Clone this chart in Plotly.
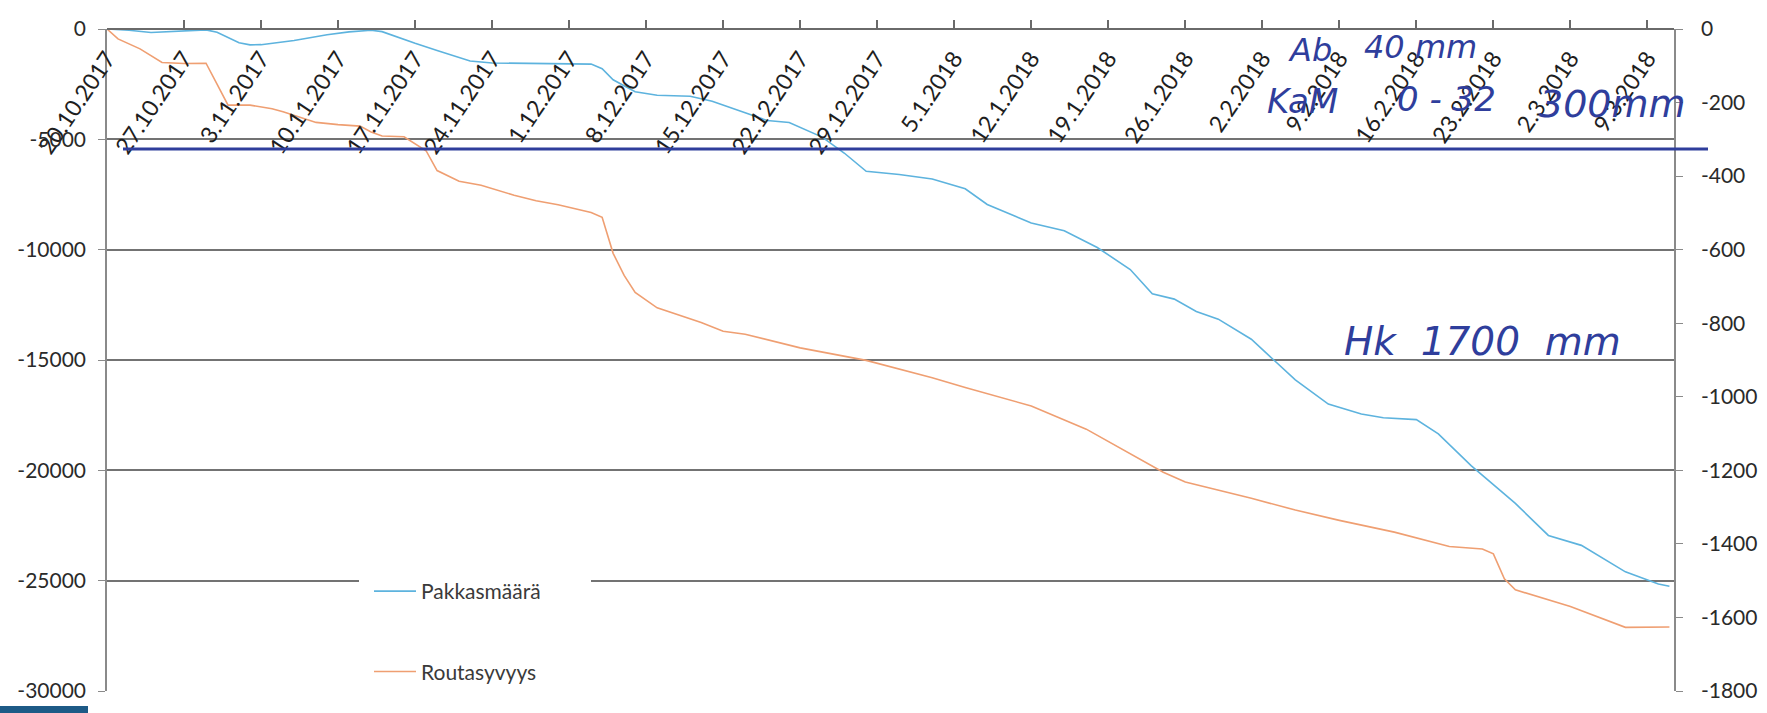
import plotly.graph_objects as go

# ---------------- data ----------------
pakkas_dates = [
    "2017-10-20", "2017-10-22", "2017-10-24", "2017-10-27", "2017-10-29", "2017-10-30",
    "2017-11-01", "2017-11-02", "2017-11-03", "2017-11-06", "2017-11-09", "2017-11-11",
    "2017-11-13", "2017-11-14", "2017-11-15", "2017-11-17", "2017-11-19", "2017-11-22",
    "2017-11-24", "2017-11-29", "2017-12-03", "2017-12-04", "2017-12-05", "2017-12-07",
    "2017-12-09", "2017-12-12", "2017-12-14", "2017-12-17", "2017-12-19", "2017-12-21",
    "2017-12-22", "2017-12-24", "2017-12-26", "2017-12-28", "2017-12-31", "2018-01-03",
    "2018-01-06", "2018-01-08", "2018-01-12", "2018-01-15", "2018-01-18", "2018-01-21",
    "2018-01-23", "2018-01-25", "2018-01-27", "2018-01-29", "2018-02-01", "2018-02-03",
    "2018-02-05", "2018-02-08", "2018-02-11", "2018-02-13", "2018-02-16", "2018-02-18",
    "2018-02-21", "2018-02-25", "2018-02-28", "2018-03-03", "2018-03-07", "2018-03-10",
    "2018-03-11",
]
pakkas_values = [
    0, -60, -160, -100, -40, -150,
    -620, -720, -710, -520, -260, -130,
    -60, -120, -300, -650, -970, -1450,
    -1540, -1570, -1590, -1800, -2300, -2840,
    -3000, -3050, -3270, -3800, -4150, -4240,
    -4450, -4900, -5620, -6450, -6590, -6800,
    -7240, -7950, -8790, -9140, -9900, -10900,
    -12000, -12240, -12800, -13150, -14060, -15000,
    -15900, -17000, -17450, -17620, -17700, -18350,
    -19800, -21500, -22950, -23400, -24600, -25150,
    -25250,
]

routa_dates = [
    "2017-10-20", "2017-10-21", "2017-10-23", "2017-10-25", "2017-10-27", "2017-10-29",
    "2017-10-30", "2017-10-31", "2017-11-02", "2017-11-04", "2017-11-05", "2017-11-08",
    "2017-11-10", "2017-11-12", "2017-11-13", "2017-11-14", "2017-11-16", "2017-11-18",
    "2017-11-19", "2017-11-21", "2017-11-23", "2017-11-26", "2017-11-28", "2017-11-30",
    "2017-12-03", "2017-12-04", "2017-12-05", "2017-12-06", "2017-12-07", "2017-12-09",
    "2017-12-13", "2017-12-15", "2017-12-17", "2017-12-22", "2017-12-28", "2018-01-03",
    "2018-01-06", "2018-01-12", "2018-01-17", "2018-01-18", "2018-01-24", "2018-01-26",
    "2018-01-29", "2018-02-01", "2018-02-05", "2018-02-09", "2018-02-14", "2018-02-19",
    "2018-02-22", "2018-02-23", "2018-02-24", "2018-02-25", "2018-03-02", "2018-03-07",
    "2018-03-11",
]
routa_values = [
    0, -27, -54, -91, -94, -93,
    -150, -207, -207, -217, -225, -254,
    -260, -264, -280, -291, -293, -331,
    -385, -414, -425, -452, -467, -478,
    -499, -512, -610, -670, -716, -758,
    -798, -822, -830, -867, -901, -948,
    -975, -1025, -1088, -1105, -1205, -1232,
    -1253, -1276, -1308, -1336, -1368, -1407,
    -1414, -1427, -1495, -1525, -1570, -1627,
    -1626,
]

left_ticks = [0, -5000, -10000, -15000, -20000, -25000, -30000]
left_labels = ["0", "-5000", "-10000", "-15000", "-20000", "-25000", "-30000"]
right_ticks = [0, -200, -400, -600, -800, -1000, -1200, -1400, -1600, -1800]
right_labels = ["0", "-200", "-400", "-600", "-800", "-1000", "-1200", "-1400", "-1600", "-1800"]

series_names = ["Pakkasmäärä", "Routasyvyys"]

# ---------------- figure ----------------
BLUE = "#5db3de"
ORANGE = "#ef9f72"
GRID = "#737373"
PEN = "#2f3e9c"
FONT = "Lato"

fig = go.Figure()
fig.add_trace(go.Scatter(x=pakkas_dates, y=pakkas_values, name=series_names[0],
                         mode="lines", line=dict(color=BLUE, width=1.6),
                         legendgroup="a", yaxis="y"))
fig.add_trace(go.Scatter(x=routa_dates, y=routa_values, name=series_names[1],
                         mode="lines", line=dict(color=ORANGE, width=1.6),
                         legendgroup="b", yaxis="y2"))

W, H = 1767, 713
L, R, T, B = 107, 93, 29, 22
PW, PH = W - L - R, H - T - B


def px(x):
    return (x - L) / PW


def py(y):
    return (H - B - y) / PH


fig.update_layout(
    width=W, height=H,
    margin=dict(l=L, r=R, t=T, b=B, pad=0),
    paper_bgcolor="white", plot_bgcolor="white",
    font=dict(family=FONT, color="#2a2a2a"),
    showlegend=True,
    legend=dict(x=px(369), y=py(571), xanchor="left", yanchor="top",
                bgcolor="white", borderwidth=0, tracegroupgap=50,
                font=dict(size=21, color="#3a3a3a", family=FONT),
                itemwidth=42, entrywidth=181, entrywidthmode="pixels"),
    xaxis=dict(type="date", range=["2017-10-20", "2018-03-11 10:00"],
               tick0="2017-10-20", dtick=7 * 86400000,
               tickformat="%-d.%-m.%Y", tickangle=-56,
               anchor="free", position=1, side="bottom",
               showline=True, linecolor="#6a6a6a", linewidth=2,
               ticks="inside", ticklen=8, tickcolor="#6a6a6a", tickwidth=1.5,
               showgrid=False, zeroline=False, ticklabelstandoff=6,
               tickfont=dict(size=23, color="#1e1e1e", family=FONT),
               automargin=False),
    yaxis=dict(range=[-30000, 0], tickvals=left_ticks, ticktext=left_labels,
               showgrid=True, gridcolor=GRID, gridwidth=1.7,
               showline=True, linecolor="#8a8a8a", linewidth=1.5,
               ticks="outside", ticklen=7, tickcolor="#8a8a8a",
               zeroline=False, ticklabelstandoff=8,
               tickfont=dict(size=21, color="#2a2a2a", family=FONT),
               automargin=False),
    yaxis2=dict(range=[-1800, 0], tickvals=right_ticks, ticktext=right_labels,
                overlaying="y", side="right", showgrid=False,
                showline=True, linecolor="#8a8a8a", linewidth=1.5,
                ticks="outside", ticklen=7, tickcolor="#8a8a8a",
                zeroline=False, ticklabelstandoff=14,
                tickfont=dict(size=21, color="#2a2a2a", family=FONT),
                automargin=False),
)

# hand-drawn structure line
fig.add_shape(type="line", xref="paper", yref="paper",
              x0=px(123), x1=px(1708), y0=py(149), y1=py(149),
              line=dict(color=PEN, width=3), layer="above")

# white gaps where the legend box hides the lower gridlines
fig.add_shape(type="rect", xref="paper", yref="paper",
              x0=px(359), x1=px(591), y0=py(586), y1=py(576),
              line=dict(width=0), fillcolor="white", layer="above")
fig.add_shape(type="rect", xref="paper", yref="paper",
              x0=px(330), x1=px(591), y0=py(697), y1=py(684),
              line=dict(width=0), fillcolor="white", layer="above")

# scan artefact at bottom-left corner
fig.add_shape(type="rect", xref="paper", yref="paper",
              x0=px(0), x1=px(88), y0=py(713), y1=py(706),
              line=dict(width=0), fillcolor="#1d5a86", layer="above")

# handwritten notes
notes = [
    ("Ab", 1310, 50, 32),
    ("40 mm", 1420, 47, 32),
    ("KaM", 1302, 101, 34),
    ("0 - 32", 1446, 99, 34),
    ("300mm", 1612, 104, 38),
    ("Hk\u00a0\u00a01700\u00a0\u00a0mm", 1482, 341, 39),
]
for text, x, y, size in notes:
    fig.add_annotation(text=text, xref="paper", yref="paper", x=px(x), y=py(y),
                       xanchor="center", yanchor="middle", showarrow=False,
                       font=dict(family="DejaVu Sans", size=size, color=PEN,
                                 style="italic"))

fig.write_html("out.html")
